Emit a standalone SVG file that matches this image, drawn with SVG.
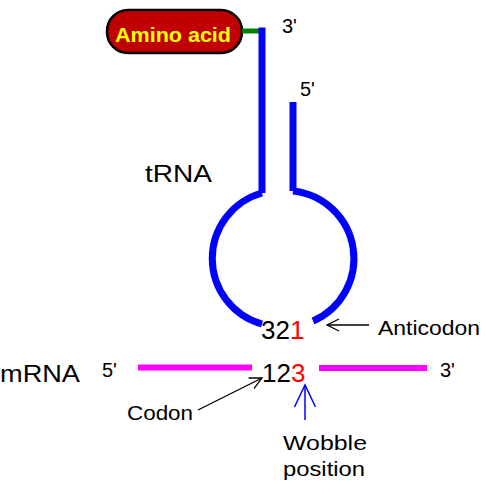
<svg xmlns="http://www.w3.org/2000/svg" width="486" height="496" viewBox="0 0 486 496">
<style>
.t{font-family:"Liberation Sans",Arial,sans-serif;fill:#000}
.lbl{font-size:21px}
.prime{font-size:20px}
.big{font-size:24px}
.num{font-size:26px}
.red{fill:#FF0000}
.trna{stroke:#0000FF;stroke-width:7;fill:none}
.mrna{stroke:#FF00FF;stroke-width:6;fill:none}
.ptr{stroke:#000;stroke-width:1.3;fill:none}
</style>
<defs>
<marker id="ah" markerUnits="userSpaceOnUse" viewBox="0 0 24 24" markerWidth="24" markerHeight="24" refX="22" refY="12" orient="auto">
<path d="M10,6 L22,12 L10,18" fill="none" stroke="#000" stroke-width="1.3"/>
</marker>
<marker id="ahb" markerUnits="userSpaceOnUse" viewBox="0 0 30 30" markerWidth="30" markerHeight="30" refX="27" refY="15" orient="auto">
<path d="M5,4.5 L27,15 L5,25.5" fill="none" stroke="#0000FF" stroke-width="1.5"/>
</marker>
</defs>
<rect width="486" height="496" fill="#fff"/>
<g id="amino-acid">
<rect x="107" y="10" width="135" height="43" rx="21" fill="#C00000" stroke="#000" stroke-width="2.5"/>
<text x="115" y="42" font-family="Liberation Sans,Arial,sans-serif" font-weight="bold" font-size="20" fill="#FFFF00" textLength="116" lengthAdjust="spacingAndGlyphs">Amino acid</text>
</g>
<g id="trna">
<line x1="242" y1="31" x2="262" y2="31" stroke="#008000" stroke-width="5"/>
<line class="trna" x1="262" y1="27.5" x2="262" y2="193"/>
<line class="trna" x1="293" y1="102" x2="293" y2="191"/>
<path class="trna" d="M262,193 A68 68 0 0 0 262,324"/>
<path class="trna" d="M293,191 A68 68 0 0 1 313,321"/>
<text class="t prime" x="282" y="33">3'</text>
<text class="t prime" x="300" y="96">5'</text>
<text class="t big" x="145" y="182" textLength="67" lengthAdjust="spacingAndGlyphs">tRNA</text>
<text class="t num" x="261" y="339">32<tspan class="red">1</tspan></text>
</g>
<g id="mrna">
<line class="mrna" x1="138" y1="367.5" x2="252" y2="367.5"/>
<line class="mrna" x1="319" y1="368" x2="427" y2="368"/>
<text class="t big" x="0" y="382" textLength="80" lengthAdjust="spacingAndGlyphs">mRNA</text>
<text class="t prime" x="102" y="377">5'</text>
<text class="t prime" x="440" y="377">3'</text>
<text class="t num" x="262" y="382">12<tspan class="red">3</tspan></text>
</g>
<g id="anticodon-label">
<text class="t lbl" x="378" y="335" textLength="102" lengthAdjust="spacingAndGlyphs">Anticodon</text>
</g>
<g id="codon-label">
<text class="t lbl" x="127" y="420" textLength="66" lengthAdjust="spacingAndGlyphs">Codon</text>
</g>
<g id="wobble-label">
<text class="t lbl" x="283" y="450" textLength="84" lengthAdjust="spacingAndGlyphs">Wobble</text>
<text class="t lbl" x="283" y="476" textLength="82" lengthAdjust="spacingAndGlyphs">position</text>
</g>
<g id="connectors">
<line class="ptr" x1="369" y1="325" x2="327" y2="325" marker-end="url(#ah)"/>
<line class="ptr" x1="198" y1="410" x2="262" y2="378" marker-end="url(#ah)"/>
<line x1="305" y1="420" x2="305" y2="385" stroke="#0000FF" stroke-width="1.5" marker-end="url(#ahb)"/>
</g>
</svg>
